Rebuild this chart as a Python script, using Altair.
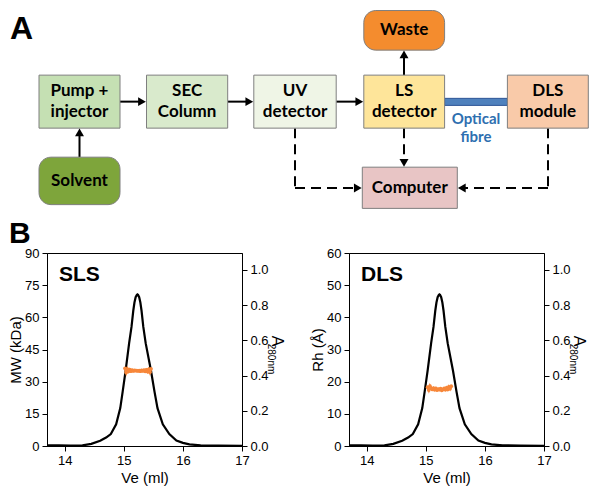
import altair as alt
import pandas as pd

# ================= Panel A : instrument flow diagram =================
box_labels = ["Pump +\ninjector", "SEC\nColumn", "UV\ndetector", "LS\ndetector",
              "DLS\nmodule", "Computer", "Waste", "Solvent"]
box_x1 = [40, 147.5, 254.8, 364.8, 508.4, 363.3, 364.8, 40]
box_x2 = [121, 228.7, 337.2, 445.6, 589.3, 458.3, 445.6, 121]
box_y1 = [71.7, 71.7, 71.7, 71.7, 71.7, 170, 2.7, 159.3]
box_y2 = [128.3, 128.3, 128.3, 128.3, 128.3, 214, 45, 210]
box_rounded = [False, False, False, False, False, False, True, True]
BOX_FILLS = ["#c5e0b3", "#d9eacc", "#eff5e6", "#fee59a", "#f9caa9",
             "#e8c5c5", "#f48c2e", "#7ea53b"]

# solid arrows (start -> tip)
solid_x = [121, 228.7, 337.2, 80.5, 405]
solid_y = [100, 100, 100, 159.3, 71.7]
solid_x2 = [147.5, 254.8, 364.8, 80.5, 405]
solid_y2 = [100, 100, 100, 128.3, 45]
solid_head = [True, True, True, True, True]

# dashed signal connectors
dash_x = [296, 296, 405, 549, 549]
dash_y = [128.3, 192.3, 128.3, 128.3, 192.3]
dash_x2 = [296, 363.3, 405, 549, 458.3]
dash_y2 = [192.3, 192.3, 170, 192.3, 192.3]
dash_head = [False, True, True, False, True]

fibre_x1, fibre_x2, fibre_y1, fibre_y2 = [445.6], [508.4], [96.5], [104]
fibre_text = ["Optical", "fibre"]
fibre_tx = [477, 477]
fibre_ty = [119, 138]

panel_a_letter = ["A"]

# ================= Panel B : SEC traces =================
curve_ve = [13.70, 13.90, 14.10, 14.30, 14.45, 14.60, 14.70, 14.78, 14.87, 14.94,
            14.98, 15.03, 15.09, 15.13, 15.16, 15.18, 15.20, 15.22, 15.23, 15.24,
            15.26, 15.28, 15.30, 15.33, 15.37, 15.46, 15.52, 15.57, 15.66, 15.77,
            15.89, 16.00, 16.11, 16.30, 16.60, 17.00]
curve_a = [0.004, 0.003, 0.002, 0.004, 0.012, 0.030, 0.048, 0.068, 0.123, 0.215,
           0.307, 0.427, 0.584, 0.676, 0.768, 0.815, 0.845, 0.858, 0.861, 0.859,
           0.845, 0.815, 0.768, 0.676, 0.584, 0.427, 0.307, 0.215, 0.123, 0.068,
           0.031, 0.018, 0.009, 0.004, 0.002, 0.001]

sls_ve = [15.02, 15.04, 15.06, 15.08, 15.10, 15.12, 15.14, 15.16, 15.18, 15.20,
          15.22, 15.24, 15.26, 15.28, 15.30, 15.32, 15.34, 15.36, 15.38, 15.40,
          15.42, 15.44, 15.46]
sls_mw = [36.2, 34.3, 35.9, 34.8, 35.6, 34.9, 35.4, 35.0, 35.3, 35.1,
          35.2, 35.0, 35.2, 34.9, 35.3, 35.0, 35.4, 34.8, 35.5, 34.7,
          35.7, 34.4, 36.0]

dls_ve = [15.03, 15.05, 15.07, 15.09, 15.11, 15.13, 15.15, 15.17, 15.19, 15.21,
          15.23, 15.25, 15.27, 15.29, 15.31, 15.33, 15.35, 15.37, 15.39, 15.41, 15.43]
dls_rh = [18.3, 17.4, 18.6, 17.9, 17.6, 18.0, 17.5, 17.9, 17.4, 17.7,
          17.5, 17.8, 17.3, 17.6, 17.9, 17.5, 18.1, 17.6, 18.4, 17.8, 18.6]

x_ticks = [14, 15, 16, 17]
a_ticks = [0.0, 0.2, 0.4, 0.6, 0.8, 1.0]
sls_ticks = [0, 15, 30, 45, 60, 75, 90]
dls_ticks = [0, 10, 20, 30, 40, 50, 60]

ORANGE = "#f7873a"
FONT_D = "Lato"
FONT_C = "Liberation Sans"

# ---------------- build diagram ----------------
LEFT_EXT = 40            # room taken by the left axis of panel B (diagram is aligned to it)
X0 = 8 + LEFT_EXT
DW, DH = 592 - X0, 206
Y_SPAN = 220
PX_PER_Y = DH / Y_SPAN
LINE_PX = 21
xs = alt.Scale(domain=[X0, 592], nice=False, zero=False)
ys = alt.Scale(domain=[0, Y_SPAN], nice=False, zero=False, reverse=True)

boxes = pd.DataFrame({"label": box_labels, "x1": box_x1, "x2": box_x2,
                      "y1": box_y1, "y2": box_y2, "rounded": box_rounded})
col = alt.Color("label:N", scale=alt.Scale(domain=box_labels, range=BOX_FILLS), legend=None)

# one text row per line of each box label, centred on the box
text_rows = []
for lab, a1, a2, b1, b2 in zip(box_labels, box_x1, box_x2, box_y1, box_y2):
    lines = lab.split("\n")
    n = len(lines)
    for i, ln in enumerate(lines):
        text_rows.append({"t": ln, "x": (a1 + a2) / 2,
                          "y": (b1 + b2) / 2 + (i - (n - 1) / 2) * LINE_PX / PX_PER_Y})
box_text_df = pd.DataFrame(text_rows)


def box_layer(rounded):
    return alt.Chart(boxes).transform_filter(
        alt.datum.rounded if rounded else ~alt.datum.rounded
    ).mark_rect(stroke="#7f7f7f", strokeWidth=1,
                cornerRadius=12 if rounded else 0).encode(
        x=alt.X("x1:Q", scale=xs, axis=None), x2="x2:Q",
        y=alt.Y("y1:Q", scale=ys, axis=None), y2="y2:Q", color=col)


def segments(x1s, y1s, x2s, y2s, heads, off=4.5):
    rows, hrows = [], []
    for x, y, x2, y2, h in zip(x1s, y1s, x2s, y2s, heads):
        dx, dy = x2 - x, y2 - y
        L = (dx * dx + dy * dy) ** 0.5
        ux, uy = dx / L, dy / L
        if h:
            ex, ey = x2 - ux * off, y2 - uy * off
            if ux > 0.5:
                shp = "triangle-right"
            elif ux < -0.5:
                shp = "triangle-left"
            elif uy > 0:
                shp = "triangle-down"
            else:
                shp = "triangle-up"
            hrows.append({"x": ex, "y": ey, "shape": shp})
            rows.append({"x": x, "y": y, "x2": ex, "y2": ey})
        else:
            rows.append({"x": x, "y": y, "x2": x2, "y2": y2})
    return pd.DataFrame(rows), pd.DataFrame(hrows)


solid_df, solid_heads = segments(solid_x, solid_y, solid_x2, solid_y2, solid_head)
dash_df, dash_heads = segments(dash_x, dash_y, dash_x2, dash_y2, dash_head)
heads = pd.concat([solid_heads, dash_heads], ignore_index=True)


def rules(df, dashed):
    kw = {"strokeDash": [10, 6]} if dashed else {}
    return alt.Chart(df).mark_rule(color="black", strokeWidth=2, **kw).encode(
        x=alt.X("x:Q", scale=xs, axis=None), x2="x2:Q",
        y=alt.Y("y:Q", scale=ys, axis=None), y2="y2:Q")


head_layer = alt.Chart(heads).mark_point(filled=True, color="black", opacity=1, size=80).encode(
    x=alt.X("x:Q", scale=xs, axis=None), y=alt.Y("y:Q", scale=ys, axis=None),
    shape=alt.Shape("shape:N", scale=None))

fibre = alt.Chart(pd.DataFrame({"x1": fibre_x1, "x2": fibre_x2, "y1": fibre_y1, "y2": fibre_y2})
                  ).mark_rect(color="#4f81bd", stroke="#2f5597", strokeWidth=1).encode(
    x=alt.X("x1:Q", scale=xs, axis=None), x2="x2:Q",
    y=alt.Y("y1:Q", scale=ys, axis=None), y2="y2:Q")

fibre_lbl = alt.Chart(pd.DataFrame({"t": fibre_text, "x": fibre_tx, "y": fibre_ty})).mark_text(
    font=FONT_D, fontWeight="bold", fontSize=15, color="#2e6fb0").encode(
    x=alt.X("x:Q", scale=xs, axis=None), y=alt.Y("y:Q", scale=ys, axis=None), text="t:N")

box_text = alt.Chart(box_text_df).mark_text(font=FONT_D, fontWeight="bold", fontSize=17,
                                            color="black").encode(
    x=alt.X("x:Q", scale=xs, axis=None), y=alt.Y("y:Q", scale=ys, axis=None), text="t:N")

letter_a = alt.Chart(pd.DataFrame({"t": panel_a_letter})).mark_text(
    font=FONT_C, fontWeight="bold", fontSize=32, align="left", baseline="top",
    color="black").encode(x=alt.value(-LEFT_EXT + 3), y=alt.value(6), text="t:N")

diagram = alt.layer(
    rules(dash_df, True), rules(solid_df, False), fibre,
    box_layer(False), box_layer(True), head_layer, box_text, fibre_lbl, letter_a
).properties(width=DW, height=DH, view=alt.ViewBackground(stroke="white", strokeWidth=0))

# ---------------- build SEC panels ----------------
PW, PH = 195, 193
curve_df = pd.DataFrame({"ve": curve_ve, "a": curve_a})


def sec_panel(band_ve, band_v, y_dom, y_vals, y_title, tag, letter=None):
    xenc = alt.X("ve:Q", scale=alt.Scale(domain=[13.7, 17], nice=False, zero=False),
                 axis=alt.Axis(values=x_ticks, format="d", title="Ve (ml)",
                               labelFlush=False, titlePadding=3))
    curve = alt.Chart(curve_df).mark_line(color="black", strokeWidth=2.2).encode(
        x=xenc,
        y=alt.Y("a:Q", scale=alt.Scale(domain=[0, 1.096], nice=False, zero=False),
                axis=alt.Axis(orient="right", values=a_ticks, format=".1f", title=None)))
    band_df = pd.DataFrame({"ve": band_ve, "v": band_v})
    yenc = alt.Y("v:Q", scale=alt.Scale(domain=y_dom, nice=False, zero=False),
                 axis=alt.Axis(orient="left", values=y_vals, format="d", title=y_title,
                               titlePadding=1))
    band = alt.layer(
        alt.Chart(band_df).mark_line(color=ORANGE, strokeWidth=2.5).encode(x="ve:Q", y=yenc),
        alt.Chart(band_df).mark_point(filled=True, color=ORANGE, opacity=1, size=14).encode(x="ve:Q", y=yenc),
    )
    txt = [
        alt.Chart(pd.DataFrame({"t": [tag]})).mark_text(
            font=FONT_C, fontWeight="bold", fontSize=21, align="left", color="black").encode(
            x=alt.value(12), y=alt.value(22), text="t:N"),
        alt.Chart(pd.DataFrame({"t": ["A"]})).mark_text(
            font=FONT_C, fontSize=16, angle=90, color="black").encode(
            x=alt.value(PW + 35), y=alt.value(88), text="t:N"),
        alt.Chart(pd.DataFrame({"t": ["280nm"]})).mark_text(
            font=FONT_C, fontSize=10, angle=90, color="black").encode(
            x=alt.value(PW + 29), y=alt.value(106), text="t:N"),
    ]
    if letter:
        txt.append(alt.Chart(pd.DataFrame({"t": [letter]})).mark_text(
            font=FONT_C, fontWeight="bold", fontSize=30, align="left", baseline="top",
            color="black").encode(x=alt.value(-LEFT_EXT + 2), y=alt.value(-34), text="t:N"))
    return alt.layer(curve, band, *txt).resolve_scale(y="independent").properties(
        width=PW, height=PH)


sls = sec_panel(sls_ve, sls_mw, [0, 90], sls_ticks, "MW (kDa)", "SLS", letter="B")
dls = sec_panel(dls_ve, dls_rh, [0, 60], dls_ticks, "Rh (Å)", "DLS")

chart = alt.vconcat(diagram, alt.hconcat(sls, dls, spacing=24), spacing=4).properties(
    padding=0
).configure_view(stroke="black", strokeWidth=1).configure_axis(
    labelFont=FONT_C, labelFontSize=13, labelColor="black",
    titleFont=FONT_C, titleFontSize=15, titleFontWeight="normal", titleColor="black",
    domainColor="black", tickColor="black", tickSize=5, grid=False, labelPadding=3
)

chart.save("out.html", embed_options={"renderer": "svg", "actions": False})
